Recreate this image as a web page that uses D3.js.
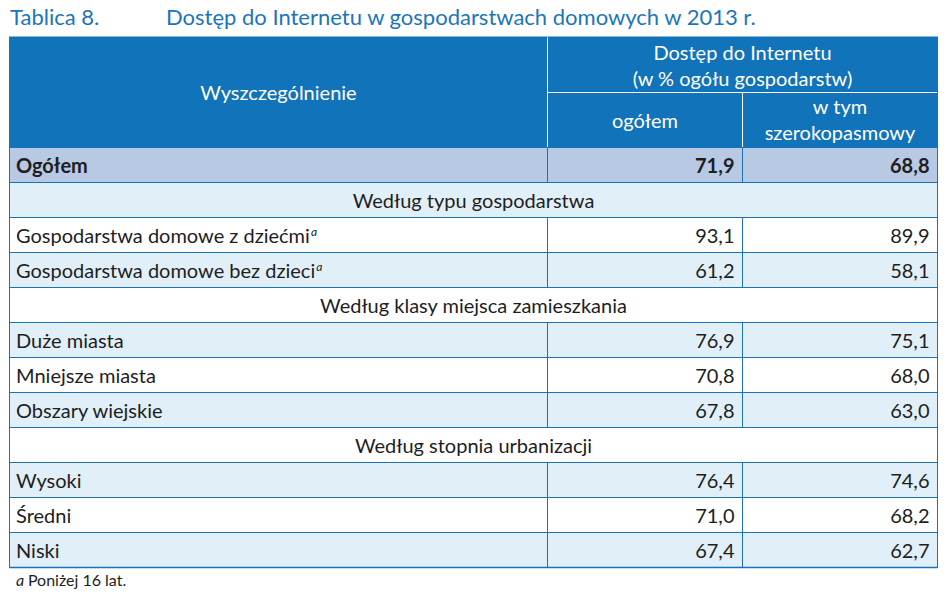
<!DOCTYPE html>
<html lang="pl">
<head>
<meta charset="utf-8">
<title>Tablica 8</title>
<script src="https://d3js.org/d3.v7.min.js"></script>
<style>
  body { margin: 0; background: #fff; }
  svg text { font-family: Lato, "Open Sans", sans-serif; }
</style>
</head>
<body>
<svg id="chart" width="948" height="599"></svg>
<script>
// ---- data ----
var rowLabels = [
  "Ogółem",
  "Według typu gospodarstwa",
  "Gospodarstwa domowe z dziećmi",
  "Gospodarstwa domowe bez dzieci",
  "Według klasy miejsca zamieszkania",
  "Duże miasta",
  "Mniejsze miasta",
  "Obszary wiejskie",
  "Według stopnia urbanizacji",
  "Wysoki",
  "Średni",
  "Niski"
];
// null = section heading row
var ogolem =         [71.9, null, 93.1, 61.2, null, 76.9, 70.8, 67.8, null, 76.4, 71.0, 67.4];
var szerokopasmowy = [68.8, null, 89.9, 58.1, null, 75.1, 68.0, 63.0, null, 74.6, 68.2, 62.7];
var notes =          ["", "", "a", "a", "", "", "", "", "", "", "", ""];

var titleNo = "Tablica 8.";
var title = "Dostęp do Internetu w gospodarstwach domowych w 2013 r.";
var headStub = "Wyszczególnienie";
var headGroup = ["Dostęp do Internetu", "(w % ogółu gospodarstw)"];
var headCol1 = ["ogółem"];
var headCol2 = ["w tym", "szerokopasmowy"];
var footnote = "Poniżej 16 lat.";

// ---- layout ----
var blue = "#1173b9", line = "#1a72b8", light = "#e1eff8", total = "#b8c9e3", ink = "#1e1e1e";
var left = 9.5, right = 937.5, col1 = 547.5, col2 = 742.5;
var headTop = 37, headMid = 92.5, bodyTop = 147.5, bodyBottom = 567.5;
var fs = 20; // body font size

var svg = d3.select("#chart");
var fmt = function (v) { return d3.format(".1f")(v).replace(".", ","); };

var y = d3.scaleBand()
  .domain(d3.range(rowLabels.length))
  .range([bodyTop, bodyBottom])
  .padding(0);

// title
svg.append("text").attr("x", 10).attr("y", 25)
  .attr("font-size", 22).attr("fill", "#1b75bc").text(titleNo);
svg.append("text").attr("x", 166).attr("y", 25)
  .attr("font-size", 22).attr("fill", "#1b75bc").text(title);

// header block
svg.append("rect").attr("x", left).attr("y", headTop)
  .attr("width", right - left).attr("height", bodyTop - headTop).attr("fill", blue);
svg.append("line").attr("x1", col1).attr("x2", col1).attr("y1", headTop).attr("y2", bodyTop)
  .attr("stroke", "#fff").attr("stroke-width", 1);
svg.append("line").attr("x1", col1).attr("x2", right).attr("y1", headMid).attr("y2", headMid)
  .attr("stroke", "#fff").attr("stroke-width", 1);
svg.append("line").attr("x1", col2).attr("x2", col2).attr("y1", headMid).attr("y2", bodyTop)
  .attr("stroke", "#fff").attr("stroke-width", 1);

function headText(lines, cx, y0, dy) {
  lines.forEach(function (t, i) {
    svg.append("text").attr("x", cx).attr("y", y0 + i * dy)
      .attr("text-anchor", "middle").attr("font-size", fs)
      .attr("fill", "#fff").text(t);
  });
}
headText([headStub], (left + col1) / 2, 100, 0);
headText(headGroup, (col1 + right) / 2, 59.5, 26);
headText(headCol1, (col1 + col2) / 2, 128, 0);
headText(headCol2, (col2 + right) / 2, 114, 26);

// body rows
var rows = svg.append("g").selectAll("g")
  .data(rowLabels.map(function (d, i) {
    return { label: d, a: ogolem[i], b: szerokopasmowy[i], note: notes[i], i: i };
  }))
  .join("g")
  .attr("transform", function (d) { return "translate(0," + y(d.i) + ")"; });

rows.append("rect")
  .attr("x", left).attr("width", right - left).attr("height", y.bandwidth())
  .attr("fill", function (d) { return d.i === 0 ? total : (d.i % 2 ? light : "#fff"); });

// horizontal rules
rows.append("line")
  .attr("x1", left).attr("x2", right).attr("y1", 0).attr("y2", 0)
  .attr("stroke", line).attr("stroke-width", 1);

// column separators only on data rows
rows.filter(function (d) { return d.a !== null; })
  .selectAll("line.sep").data([col1, col2]).join("line")
  .attr("class", "sep")
  .attr("x1", function (x) { return x; }).attr("x2", function (x) { return x; })
  .attr("y1", 0).attr("y2", y.bandwidth())
  .attr("stroke", line).attr("stroke-width", 1);

var ty = 25.5;

// labels
var lab = rows.append("text")
  .attr("x", function (d) { return d.a === null ? (left + right) / 2 : 16; })
  .attr("y", ty)
  .attr("text-anchor", function (d) { return d.a === null ? "middle" : "start"; })
  .attr("font-size", fs)
  .attr("font-weight", function (d) { return d.i === 0 ? "bold" : "normal"; })
  .attr("fill", ink)
  .text(function (d) { return d.label; });
lab.filter(function (d) { return d.note; })
  .append("tspan").attr("dx", 1).attr("dy", -7).attr("font-size", 12).attr("font-style", "italic")
  .text(function (d) { return d.note; });

// values
var vals = rows.filter(function (d) { return d.a !== null; });
vals.append("text")
  .attr("x", col2 - 8).attr("y", ty).attr("text-anchor", "end")
  .attr("font-size", fs).attr("fill", ink)
  .attr("font-weight", function (d) { return d.i === 0 ? "bold" : "normal"; })
  .text(function (d) { return fmt(d.a); });
vals.append("text")
  .attr("x", right - 8).attr("y", ty).attr("text-anchor", "end")
  .attr("font-size", fs).attr("fill", ink)
  .attr("font-weight", function (d) { return d.i === 0 ? "bold" : "normal"; })
  .text(function (d) { return fmt(d.b); });

// outer frame
svg.append("rect").attr("x", left).attr("y", headTop)
  .attr("width", right - left).attr("height", bodyBottom - headTop)
  .attr("fill", "none").attr("stroke", line).attr("stroke-width", 1);
svg.append("line").attr("x1", left).attr("x2", right).attr("y1", bodyBottom).attr("y2", bodyBottom)
  .attr("stroke", line).attr("stroke-width", 1.5);

// footnote
var fn = svg.append("text").attr("x", 16).attr("y", 586).attr("font-size", 16).attr("fill", ink);
fn.append("tspan").attr("font-style", "italic").text("a ");
fn.append("tspan").text(footnote);
</script>
</body>
</html>
